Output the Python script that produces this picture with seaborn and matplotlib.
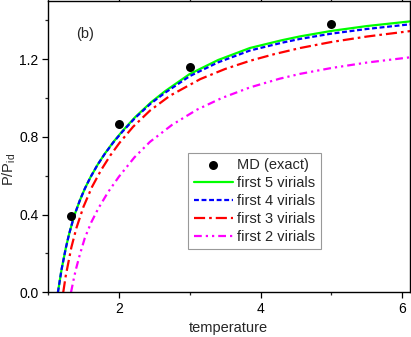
import numpy as np
import pandas as pd
import matplotlib
matplotlib.use("Agg")
import matplotlib.pyplot as plt
from matplotlib.ticker import MultipleLocator, FormatStrFormatter
import seaborn as sns

# MD (exact) points
md_t = [1.32, 2.0, 3.0, 5.0]
md_p = [0.395, 0.865, 1.16, 1.38]

# first 5 virials
v5_t = [1.14, 1.19, 1.25, 1.30, 1.37, 1.45, 1.52, 1.60, 1.70, 1.80, 1.92, 2.05,
        2.23, 2.45, 2.65, 3.0, 3.4, 3.85, 4.3, 4.56, 5.0, 5.5, 6.11]
v5_p = [0.0, 0.115, 0.226, 0.3035, 0.394, 0.474, 0.534, 0.593, 0.657, 0.713, 0.773, 0.830,
        0.902, 0.977, 1.035, 1.124, 1.196, 1.258, 1.298, 1.318, 1.346, 1.371, 1.395]

# first 4 virials
v4_t = v5_t
v4_p = [0.0, 0.115, 0.226, 0.3035, 0.394, 0.474, 0.534, 0.593, 0.657, 0.712, 0.771, 0.827,
        0.898, 0.972, 1.027, 1.113, 1.184, 1.245, 1.285, 1.305, 1.332, 1.356, 1.38]

# first 3 virials
v3_t = [1.215, 1.25, 1.33, 1.40, 1.50, 1.62, 1.75, 1.88, 2.01, 2.2, 2.44, 2.72,
        3.15, 3.5, 3.85, 4.2, 4.56, 5.0, 5.5, 6.11]
v3_p = [0.0, 0.084, 0.232, 0.33, 0.44, 0.542, 0.630, 0.705, 0.770, 0.852, 0.936, 1.012,
        1.098, 1.150, 1.192, 1.227, 1.258, 1.289, 1.317, 1.345]

# first 2 virials
v2_t = [1.325, 1.36, 1.39, 1.45, 1.52, 1.61, 1.71, 1.85, 2.0, 2.22, 2.44, 2.75,
        3.1, 3.45, 3.85, 4.27, 4.56, 5.0, 5.5, 6.11]
v2_p = [0.0, 0.063, 0.113, 0.195, 0.280, 0.36, 0.432, 0.517, 0.595, 0.695, 0.775, 0.862,
        0.94, 1.0, 1.055, 1.10, 1.125, 1.155, 1.183, 1.21]

sns.set_style("ticks")
plt.rcParams["font.family"] = ["Liberation Sans", "DejaVu Sans"]
plt.rcParams["mathtext.fontset"] = "custom"
plt.rcParams["mathtext.rm"] = "Liberation Sans"

fig = plt.figure(figsize=(4.11, 3.37), dpi=100)
ax = fig.add_axes([0.1168, 0.1326, 0.8808, 0.8644])

series = [
    ("first 5 virials", v5_t, v5_p, "#00ff00", "-"),
    ("first 4 virials", v4_t, v4_p, "#0000ff", (0, (2.2, 1.2))),
    ("first 3 virials", v3_t, v3_p, "#ff0000", (0, (5, 1.8, 1.2, 1.8))),
    ("first 2 virials", v2_t, v2_p, "#ff00ff", (0, (3.5, 1.8, 1.0, 1.8, 1.0, 1.8))),
]

sns.scatterplot(x=md_t, y=md_p, color="black", s=42, edgecolor="black",
                linewidth=0, label="MD (exact)", ax=ax, zorder=5)
for name, t, p, col, ls in series:
    df = pd.DataFrame({"T": t, "P": p})
    sns.lineplot(data=df, x="T", y="P", color=col, linestyle=ls, lw=1.6,
                 label=name, ax=ax)

ax.set_xlim(1.0, 6.11)
ax.set_ylim(0.0, 1.5)
ax.xaxis.set_major_locator(MultipleLocator(2))
ax.xaxis.set_minor_locator(MultipleLocator(1))
ax.yaxis.set_major_locator(MultipleLocator(0.4))
ax.yaxis.set_minor_locator(MultipleLocator(0.2))
ax.yaxis.set_major_formatter(FormatStrFormatter("%.1f"))
ax.tick_params(which="major", direction="out", length=4.3, width=0.9,
               labelsize=10, pad=2.5, colors="black")
ax.tick_params(which="minor", direction="out", length=2.3, width=0.9)
ax.tick_params(which="both", top=True, right=True)
for sp in ax.spines.values():
    sp.set_visible(True)
    sp.set_color("black")
    sp.set_linewidth(1.0)

ax.set_xlabel("temperature", fontsize=10.5)
ax.set_ylabel(r"P/P$_\mathregular{id}$", fontsize=10.5)
ax.xaxis.set_label_coords(0.497, -0.098)
ax.yaxis.set_label_coords(-0.082, 0.42)

ax.text(1.53, 1.33, "(b)", fontsize=10.5, ha="center", va="center")

leg = ax.legend(loc="lower left", bbox_to_anchor=(0.388, 0.149),
                borderaxespad=0, fontsize=10.5, frameon=True, fancybox=False,
                edgecolor="#808080", handlelength=2.7, handletextpad=0.3,
                labelspacing=0.27, borderpad=0.35)
leg.get_frame().set_linewidth(0.8)

fig.savefig("out.png", dpi=100)
